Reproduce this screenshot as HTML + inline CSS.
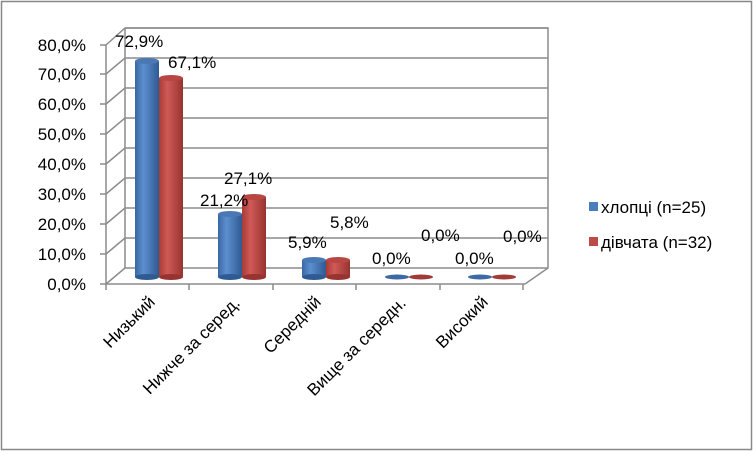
<!DOCTYPE html>
<html><head><meta charset="utf-8"><style>body{margin:0;background:#fff}svg{display:block}</style></head><body>
<svg width="753" height="451" viewBox="0 0 753 451" xmlns="http://www.w3.org/2000/svg" font-family="Liberation Sans, sans-serif">
<defs>
<linearGradient id="b" x1="0" x2="1"><stop offset="0" stop-color="#3a67a3"/><stop offset="0.35" stop-color="#5c8fd0"/><stop offset="1" stop-color="#2f5a92"/></linearGradient>
<linearGradient id="r" x1="0" x2="1"><stop offset="0" stop-color="#a83a37"/><stop offset="0.35" stop-color="#d05a56"/><stop offset="1" stop-color="#973330"/></linearGradient>
</defs>
<rect x="1.5" y="1.5" width="750" height="448" fill="#fff" stroke="#888" stroke-width="1.5"/>
<g stroke="#8c8c8c" stroke-width="1.5" fill="none">
<path d="M125 28 H548 V268 L525 284"/>
<path d="M125 28 V268"/>
<path d="M106 45 L125 28 H548"/><path d="M106 74 L125 58 H548"/><path d="M106 104 L125 88 H548"/><path d="M106 134 L125 118 H548"/><path d="M106 164 L125 148 H548"/><path d="M106 194 L125 178 H548"/><path d="M106 224 L125 208 H548"/><path d="M106 254 L125 238 H548"/><path d="M106 284 L125 268 H548"/>
<path d="M106 45 V284 H525"/>
<path d="M100 45H106M100 74H106M100 104H106M100 134H106M100 164H106M100 194H106M100 224H106M100 254H106M100 284H106"/>
<path d="M106 284V290M189 284V290M273 284V290M356 284V290M440 284V290M523 284V290"/>
</g>
<g>
<rect x="135" y="61" width="24" height="216" fill="url(#b)"/><ellipse cx="147" cy="277" rx="12" ry="3" fill="#2f5a92"/><ellipse cx="147" cy="61" rx="12" ry="3" fill="#4a78b5"/>
<rect x="159" y="78" width="24" height="199" fill="url(#r)"/><ellipse cx="171" cy="277" rx="12" ry="3" fill="#973330"/><ellipse cx="171" cy="78" rx="12" ry="3" fill="#b84643"/>
<rect x="218" y="214" width="24" height="63" fill="url(#b)"/><ellipse cx="230" cy="277" rx="12" ry="3" fill="#2f5a92"/><ellipse cx="230" cy="214" rx="12" ry="3" fill="#4a78b5"/>
<rect x="242" y="197" width="24" height="80" fill="url(#r)"/><ellipse cx="254" cy="277" rx="12" ry="3" fill="#973330"/><ellipse cx="254" cy="197" rx="12" ry="3" fill="#b84643"/>
<rect x="302" y="260" width="24" height="17" fill="url(#b)"/><ellipse cx="314" cy="277" rx="12" ry="3" fill="#2f5a92"/><ellipse cx="314" cy="260" rx="12" ry="3" fill="#4a78b5"/>
<rect x="326" y="260" width="24" height="17" fill="url(#r)"/><ellipse cx="338" cy="277" rx="12" ry="3" fill="#973330"/><ellipse cx="338" cy="260" rx="12" ry="3" fill="#b84643"/>
<ellipse cx="397" cy="277" rx="12" ry="2.5" fill="#3d6aa5"/><ellipse cx="421" cy="277" rx="12" ry="2.5" fill="#a13b38"/>
<ellipse cx="480" cy="277" rx="12" ry="2.5" fill="#3d6aa5"/><ellipse cx="504" cy="277" rx="12" ry="2.5" fill="#a13b38"/>
</g>
<g font-size="17" fill="#000">
<g text-anchor="end">
<text x="86" y="51">80,0%</text><text x="86" y="80">70,0%</text><text x="86" y="110">60,0%</text><text x="86" y="140">50,0%</text><text x="86" y="170">40,0%</text><text x="86" y="200">30,0%</text><text x="86" y="230">20,0%</text><text x="86" y="260">10,0%</text><text x="86" y="290">0,0%</text>
</g>
<text x="115" y="47">72,9%</text><text x="168" y="68">67,1%</text>
<text x="200" y="206">21,2%</text><text x="224" y="184">27,1%</text>
<text x="288" y="248">5,9%</text><text x="330" y="228">5,8%</text>
<text x="372" y="264">0,0%</text><text x="421" y="241">0,0%</text>
<text x="455" y="264">0,0%</text><text x="503" y="242">0,0%</text>
<g text-anchor="end">
<text transform="translate(156,303) rotate(-45)">Низький</text>
<text transform="translate(241,304) rotate(-45)">Нижче за серед.</text>
<text transform="translate(322,303) rotate(-45)">Середній</text>
<text transform="translate(407,304) rotate(-45)">Вище за середн.</text>
<text transform="translate(489,303) rotate(-45)">Високий</text>
</g>
<rect x="589" y="202" width="9" height="9" fill="#4a7ebb"/><text x="601" y="213">хлопці (n=25)</text>
<rect x="589" y="237" width="9" height="9" fill="#be4b48"/><text x="601" y="248">дівчата (n=32)</text>
</g>
</svg>
</body></html>
